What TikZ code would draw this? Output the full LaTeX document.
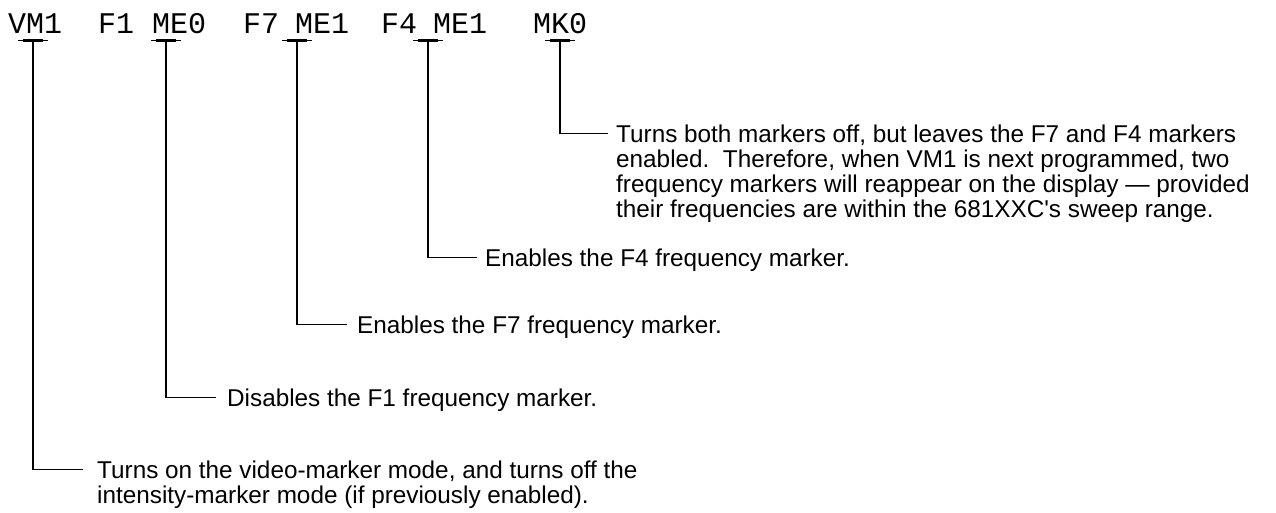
\documentclass[tikz,border=0pt]{standalone}
\usepackage{fontspec}
\setmainfont{Liberation Sans}
\setmonofont{Liberation Mono}
\begin{document}
\begin{tikzpicture}[x=1pt,y=-1pt,
  cmd/.style={anchor=base west, inner sep=0pt, font=\ttfamily\fontsize{30}{30}\selectfont},
  lbl/.style={anchor=base west, inner sep=0pt, font=\fontsize{24.3}{25}\selectfont},
  lead/.style={line width=1.2pt},
  barthin/.style={line width=1pt},
  barthick/.style={line width=3pt}]
\useasboundingbox (0,0) rectangle (1276,512);
% command string
\node[cmd] (vm1) at (8,33) {VM1};
\node[cmd] (f1)  at (98,33) {F1};
\node[cmd] (me0) at (152,33) {ME0};
\node[cmd] (f7)  at (243,33) {F7};
\node[cmd] (me1a) at (295,33) {ME1};
\node[cmd] (f4)  at (381,33) {F4};
\node[cmd] (me1b) at (433,33) {ME1};
\node[cmd] (mk0) at (533,33) {MK0};
% bracket points
\coordinate (b1) at (33,40);
\coordinate (b2) at (166,40);
\coordinate (b3) at (297,40);
\coordinate (b4) at (428,40);
\coordinate (b5) at (560,40);
\foreach \b in {b1,b2,b3,b4,b5}{
  \draw[barthin] ([xshift=-15pt]\b) -- ([xshift=15pt]\b);
  \draw[barthick] ([xshift=-10pt]\b) -- ([xshift=10pt]\b);
}
% labels
\node[lbl] (t5) at (616,142.4) {\begin{tabular}[t]{@{}l@{}}Turns both markers off, but leaves the F7 and F4 markers\\
enabled.\ \ Therefore, when VM1 is next programmed, two\\
frequency markers will reappear on the display — provided\\
their frequencies are within the 681XXC\textquotesingle s sweep range.\end{tabular}};
\node[lbl] (t4) at (485,266.4) {Enables the F4 frequency marker.};
\node[lbl] (t3) at (357,333.4) {Enables the F7 frequency marker.};
\node[lbl] (t2) at (227,406.4) {Disables the F1 frequency marker.};
\node[lbl] (t1) at (97,478.4) {\begin{tabular}[t]{@{}l@{}}Turns on the video-marker mode, and turns off the\\
intensity-marker mode (if previously enabled).\end{tabular}};
% leaders
\draw[lead] (b5) |- ([xshift=-8pt,yshift=8.6pt]t5.base west);
\draw[lead] (b4) |- ([xshift=-8pt,yshift=8.6pt]t4.base west);
\draw[lead] (b3) |- ([xshift=-10pt,yshift=8.6pt]t3.base west);
\draw[lead] (b2) |- ([xshift=-11pt,yshift=8.6pt]t2.base west);
\draw[lead] (b1) |- ([xshift=-14pt,yshift=8.6pt]t1.base west);
\end{tikzpicture}
\end{document}
